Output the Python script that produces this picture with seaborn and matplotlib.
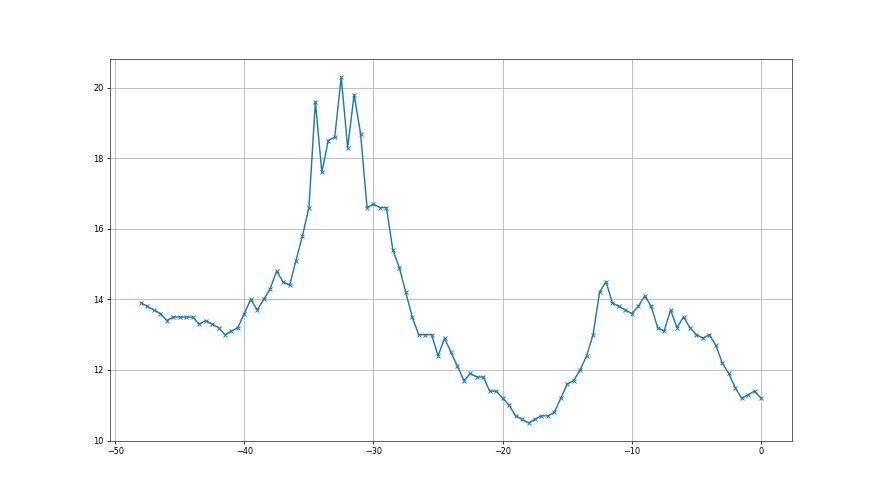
import numpy as np
import pandas as pd
import matplotlib
matplotlib.use('Agg')
import matplotlib.pyplot as plt
import seaborn as sns

# x positions: -48 .. 0 in half steps
x_values = [-48 + 0.5 * i for i in range(97)]

y_values = [
    13.9, 13.8, 13.7, 13.6, 13.4, 13.5, 13.5, 13.5, 13.5, 13.3,
    13.4, 13.3, 13.2, 13.0, 13.1, 13.2, 13.6, 14.0, 13.7, 14.0,
    14.3, 14.8, 14.5, 14.4, 15.1, 15.8, 16.6, 19.6, 17.6, 18.5,
    18.6, 20.3, 18.3, 19.8, 18.7, 16.6, 16.7, 16.6, 16.6, 15.4,
    14.9, 14.2, 13.5, 13.0, 13.0, 13.0, 12.4, 12.9, 12.5, 12.1,
    11.7, 11.9, 11.8, 11.8, 11.4, 11.4, 11.2, 11.0, 10.7, 10.6,
    10.5, 10.6, 10.7, 10.7, 10.8, 11.2, 11.6, 11.7, 12.0, 12.4,
    13.0, 14.2, 14.5, 13.9, 13.8, 13.7, 13.6, 13.8, 14.1, 13.8,
    13.2, 13.1, 13.7, 13.2, 13.5, 13.2, 13.0, 12.9, 13.0, 12.7,
    12.2, 11.9, 11.5, 11.2, 11.3, 11.4, 11.2,
]

df = pd.DataFrame({'x': x_values, 'y': y_values})

fig, ax = plt.subplots(figsize=(12.8, 7.2), dpi=68.75)
sns.lineplot(data=df, x='x', y='y', ax=ax, estimator=None,
             marker='x', markersize=5, markeredgecolor='#1f77b4',
             markeredgewidth=1.0, color='#1f77b4', linewidth=1.5)
ax.set_xlabel('')
ax.set_ylabel('')
ax.set_ylim(10, 20.8)
ax.tick_params(labelsize=8.5)
for s in ax.spines.values():
    s.set_color('#333333')
ax.grid(True)

fig.savefig('out.png', dpi=68.75)
